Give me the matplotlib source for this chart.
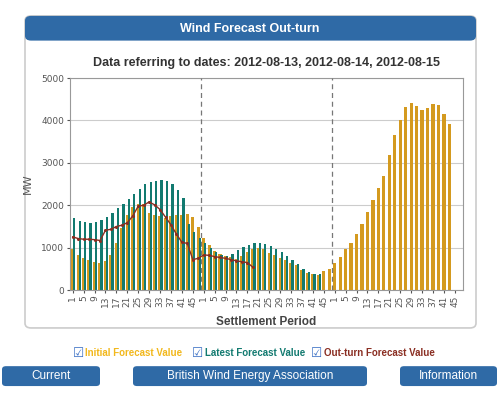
import numpy as np
import matplotlib
matplotlib.use("Agg")
import matplotlib.pyplot as plt
from matplotlib.patches import FancyBboxPatch

# settlement periods shown per day (every other half-hour)
PERIODS = [1, 3, 5, 7, 9, 11, 13, 15, 17, 19, 21, 23,
           25, 27, 29, 31, 33, 35, 37, 39, 41, 43, 45, 47]
DATES = ["2012-08-13", "2012-08-14", "2012-08-15"]
N = np.nan

# initial forecast (MW), one list per day
initial_d1 = [960, 830, 760, 710, 660, 640, 690, 830, 1120, 1460, 1760, 1950,
              2030, 2040, 1830, 1760, 1740, 1700, 1740, 1760, 1770, 1790, 1720, 1480]
initial_d2 = [1220, 1060, 920, 850, 810, 780, 740, 800, 900, 960, 1000, 960,
              880, 820, 750, 700, 640, 590, 470, 410, 370, 360, 450, 510]
initial_d3 = [630, 780, 960, 1110, 1320, 1570, 1840, 2120, 2410, 2690, 3180, 3660,
              4000, 4310, 4410, 4350, 4250, 4290, 4390, 4370, 4160, 3920, N, N]

# latest forecast (MW)
latest_d1 = [1690, 1640, 1610, 1590, 1610, 1660, 1730, 1820, 1930, 2040, 2160, 2270,
             2380, 2490, 2550, 2580, 2590, 2570, 2500, 2370, 2170, 1560, 1370, 1220]
latest_d2 = [1100, 1000, 900, 840, 810, 860, 940, 1020, 1075, 1110, 1120, 1080,
             1050, 980, 900, 800, 710, 610, 500, 430, 380, 380, N, N]
latest_d3 = [N] * 24

# out-turn (MW)
outturn_d1 = [1255, 1216, 1200, 1200, 1190, 1170, 1410, 1435, 1500, 1530, 1590, 1750,
              1980, 2000, 2080, 2010, 1900, 1720, 1540, 1320, 1130, 1100, 720, 750]
outturn_d2 = [830, 820, 790, 770, 750, 720, 690, 670, 650, 540, N, N,
              N, N, N, N, N, N, N, N, N, N, N, N]
outturn_d3 = [N] * 24

BLUE = "#2f6aa6"
ORANGE = "#d49a1f"
TEAL = "#127a70"
RED = "#8a2e22"
GREY = "#555555"

initial = np.array(initial_d1 + initial_d2 + initial_d3, dtype=float)
latest = np.array(latest_d1 + latest_d2 + latest_d3, dtype=float)
outturn = np.array(outturn_d1 + outturn_d2 + outturn_d3, dtype=float)
labels = [str(p) for p in PERIODS] * len(DATES)
x = np.arange(len(labels))

fig = plt.figure(figsize=(5.0, 3.98), dpi=100)

# panel box + header (behind the axes)
panel = FancyBboxPatch((0.05, 0.176), 0.902, 0.784, boxstyle="round,pad=0,rounding_size=0.012",
                       transform=fig.transFigure, facecolor="white", edgecolor="#cccccc",
                       lw=1.2, zorder=-2)
fig.patches.append(panel)
header = FancyBboxPatch((0.05, 0.898), 0.902, 0.062, boxstyle="round,pad=0,rounding_size=0.012",
                        transform=fig.transFigure, facecolor=BLUE, edgecolor=BLUE, lw=0,
                        zorder=-1)
fig.patches.append(header)
fig.text(0.5, 0.928, "Wind Forecast Out-turn", color="white", fontsize=9,
         fontweight="bold", ha="center", va="center", family="Liberation Sans")

ax = fig.add_axes([0.14, 0.271, 0.786, 0.533])
ax.set_facecolor("white")
# initial bars sit behind, latest bars overlap their right part
ax.bar(x, initial, width=0.6, color=ORANGE, zorder=2)
ax.bar(x + 0.275, latest, width=0.42, color=TEAL, zorder=2.5)
ax.plot(x, outturn, color=RED, lw=1.0, marker="o", ms=1.2, zorder=3)
for b in [23.5, 47.5]:
    ax.axvline(b, color="#777777", ls=(0, (4, 3)), lw=0.9, zorder=4)

ax.set_xlim(-0.5, 71.5)
ax.set_ylim(0, 5000)
ax.set_yticks([0, 1000, 2000, 3000, 4000, 5000])
ax.set_xticks(x[::2])
ax.set_xticklabels(labels[::2], rotation=90)
ax.tick_params(axis="both", labelsize=6.5, colors=GREY, length=2, pad=2)
ax.grid(axis="y", color="#cccccc", lw=0.8, zorder=0)
for s in ax.spines.values():
    s.set_color("#999999")
ax.set_ylabel("MW", fontsize=8, color=GREY, labelpad=6)
ax.set_xlabel("Settlement Period", fontsize=8.5, color="#444444", fontweight="bold",
              labelpad=6, family="Liberation Sans")
ax.set_title("Data referring to dates: " + ", ".join(DATES), fontsize=9,
             fontweight="bold", color="#333333", pad=9, family="Liberation Sans")

# legend with check marks
leg_items = [("Initial Forecast Value", "#f2b81c", 0.145),
             ("Latest Forecast Value", TEAL, 0.383),
             ("Out-turn Forecast Value", RED, 0.622)]
for txt, col, xp in leg_items:
    fig.text(xp, 0.112, "\u2611", color="#3a6fc4", fontsize=9, ha="left", va="center")
    fig.text(xp + 0.026, 0.112, txt, color=col, fontsize=7, fontweight="bold",
             ha="left", va="center", family="Liberation Sans")

# buttons
for txt, x0, w in [("Current", 0.004, 0.196), ("British Wind Energy Association", 0.266, 0.468),
                   ("Information", 0.8, 0.194)]:
    btn = FancyBboxPatch((x0, 0.03), w, 0.05, boxstyle="round,pad=0,rounding_size=0.008",
                         transform=fig.transFigure, facecolor=BLUE, edgecolor=BLUE, lw=0)
    fig.patches.append(btn)
    fig.text(x0 + w / 2, 0.055, txt, color="white", fontsize=8.5, ha="center", va="center",
             family="Liberation Sans")

fig.savefig("out.png", dpi=100)
